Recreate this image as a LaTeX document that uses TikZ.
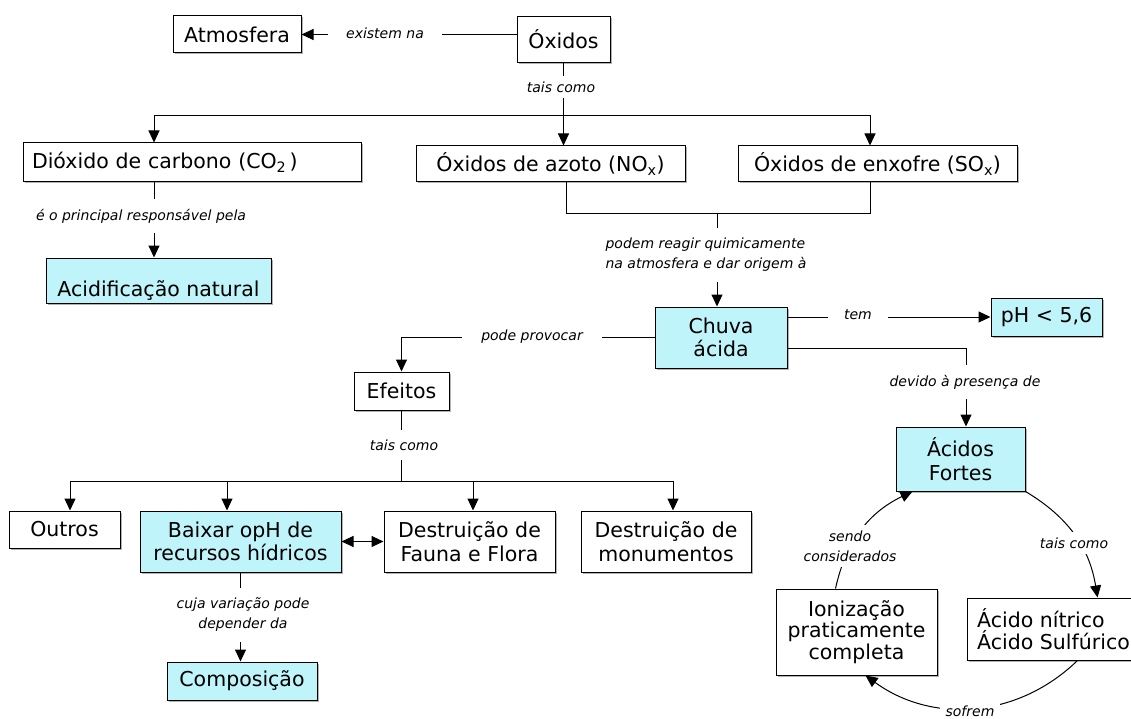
\documentclass[tikz,border=0pt]{standalone}
\usepackage{fontspec}
\setmainfont{DejaVu Sans}
\usetikzlibrary{arrows.meta,shadows,calc}
\definecolor{boxcyan}{RGB}{190,244,250}
\tikzset{
  box/.style={draw=black, line width=1pt, fill=white, inner sep=2pt,
    font=\fontsize{20.5}{23.5}\selectfont, align=center,
    drop shadow={shadow xshift=1.5pt, shadow yshift=-1.5pt, fill=black!50, opacity=0.6}},
  cbox/.style={box, fill=boxcyan},
  lbl/.style={font=\fontsize{14}{20}\selectfont\itshape, fill=white, inner xsep=4pt, inner ysep=3pt, align=center},
  con/.style={line width=1pt},
  arr/.style={con, -{Triangle[length=12pt,width=11pt]}},
  darr/.style={con, {Triangle[length=12pt,width=11pt]}-{Triangle[length=12pt,width=11pt]}},
}
\begin{document}
\begin{tikzpicture}[x=1pt,y=-1pt]
\fill[white] (0,0) rectangle (1131,719);
\useasboundingbox (0,0) rectangle (1131,719);

% boxes
\node[box, minimum width=128, minimum height=37] (atm) at (237,34.5) {Atmosfera};
\node[box, minimum width=93, minimum height=46] (oxi) at (563.5,39.5) {Óxidos};
\node[box, minimum width=338, minimum height=39, inner xsep=9pt, text width=320pt, align=left] (dio) at (192,162.5) {Dióxido de carbono (CO\textsubscript{2}\,)};
\node[box, minimum width=269, minimum height=36] (nox) at (550.5,164) {Óxidos de azoto (NO\textsubscript{x})};
\node[box, minimum width=279, minimum height=36] (sox) at (877.5,164) {Óxidos de enxofre (SO\textsubscript{x})};
\node[cbox, minimum width=225, minimum height=45] (acn) at (158.5,280.5) {\raisebox{-16pt}[0pt][0pt]{Acidificação natural}};
\node[cbox, minimum width=132, minimum height=61] (chu) at (721,337.5) {Chuva\\ácida};
\node[cbox, minimum width=111, minimum height=38] (ph) at (1046.5,317) {pH < 5,6};
\node[box, minimum width=95, minimum height=38] (efe) at (401.5,391) {Efeitos};
\node[cbox, minimum width=129, minimum height=64] (acf) at (960.5,459) {Ácidos\\Fortes};
\node[box, minimum width=111, minimum height=37] (out) at (64.5,529.5) {Outros};
\node[cbox, minimum width=201, minimum height=61] (bai) at (240.5,541.5) {Baixar opH de\\recursos hídricos};
\node[box, minimum width=171, minimum height=61] (fau) at (469.5,541.5) {Destruição de\\Fauna e Flora};
\node[box, minimum width=170, minimum height=61] (mon) at (666,541.5) {Destruição de\\monumentos};
\node[cbox, minimum width=150, minimum height=38] (com) at (242,681) {Composição};
\node[box, minimum width=161, minimum height=86, font=\fontsize{20.5}{21.5}\selectfont] (ion) at (856.5,632) {Ionização\\praticamente\\completa};
\node[box, minimum width=173, minimum height=62, font=\fontsize{20.5}{21.5}\selectfont, align=left] (acs) at (1053.5,629) {Ácido nítrico\\Ácido Sulfúrico};

% connectors
\draw[arr] (oxi.west |- atm.east) -- (atm.east);
\draw[arr] (oxi.south) -- (oxi.south |- nox.north);
\coordinate (bus1) at ($(oxi.south |- 0,115.5)$);
\draw[arr] (bus1) -| ([xshift=-38pt]dio.north);
\draw[arr] (bus1) -| ([xshift=-7.5pt]sox.north);
\draw[arr] ([xshift=-38pt]dio.south) -- ([xshift=-38pt]dio.south |- acn.north);
\draw[con] ([xshift=15.5pt]nox.south) -- ++(0,31) -| ([xshift=-7.5pt]sox.south);
\coordinate (j1) at (717,213);
\draw[arr] (j1) -- (j1 |- chu.north);
\draw[arr] (chu.east |- ph.west) -- (ph.west);
\draw[arr] ([yshift=-10.5pt]chu.east) -| ([xshift=5.5pt]acf.north);
\draw[arr] (chu.west) -| (efe.north);
\coordinate (bus2) at ($(efe.south |- 0,481.5)$);
\draw[con] (efe.south) -- (bus2);
\draw[arr] (bus2) -| ([xshift=5.5pt]out.north);
\draw[arr] (bus2) -| ([xshift=-13.5pt]bai.north);
\draw[arr] (bus2) -| ([xshift=3.5pt]fau.north);
\draw[arr] (bus2) -| ([xshift=7pt]mon.north);
\draw[darr] (bai.east) -- (fau.west);
\draw[arr] (bai.south) -- (bai.south |- com.north);
\draw[arr] (acf.south east) to[bend left=25] ([xshift=131pt]acs.north west);
\draw[arr] ([xshift=111pt]acs.south west) to[bend left=40] ([xshift=-72pt]ion.south east);
\draw[arr] ([xshift=60pt]ion.north west) to[bend left=26] ([xshift=17pt]acf.south west);

% labels
\node[lbl, inner xsep=18pt] (l1) at (385,33) {existem na};
\node[lbl, inner ysep=6pt] (l2) at (561,87) {tais como};
\node[lbl, inner ysep=10pt] (l3) at (141,216) {é o principal responsável pela};
\node[lbl, inner ysep=10pt, align=left] (l4) at (706,255) {podem reagir quimicamente\\na atmosfera e dar origem à};
\node[lbl, inner xsep=16pt] (l5) at (858,315) {tem};
\node[lbl, inner ysep=10pt] (l6) at (965,382) {devido à presença de};
\node[lbl, inner xsep=19pt] (l7) at (532,337) {pode provocar};
\node[lbl, inner ysep=10pt] (l8) at (404,445) {tais como};
\node[lbl, inner ysep=10pt] (l9) at (243,615) {cuja variação pode\\depender da};
\node[lbl, inner sep=6pt] (l10) at (1074,543) {tais como};
\node[lbl, inner xsep=6pt, inner ysep=2pt] (l11) at (970,711) {sofrem};
\node[lbl, inner sep=6pt] (l12) at (850,546) {sendo\\considerados};
\end{tikzpicture}
\end{document}
